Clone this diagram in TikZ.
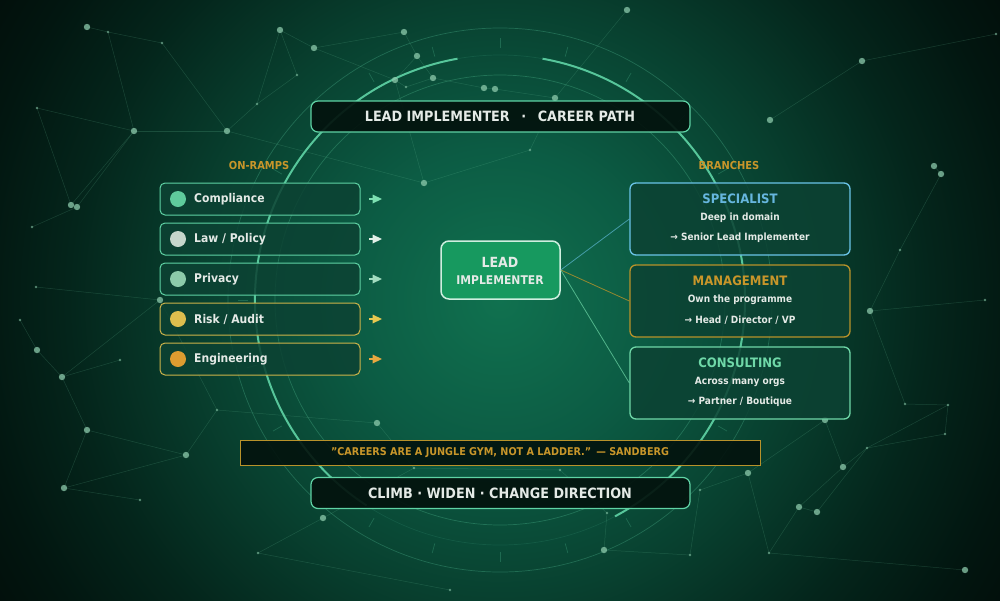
\documentclass[tikz,border=0pt]{standalone}
\usepackage{fontspec}
\setmainfont{DejaVu Sans}[FakeStretch=0.9]
\usetikzlibrary{calc,shapes.misc}
\definecolor{bgA}{HTML}{10714F}
\definecolor{bgB}{HTML}{0C5C44}
\definecolor{bgC}{HTML}{08402F}
\definecolor{bgD}{HTML}{04251B}
\definecolor{bgE}{HTML}{021610}
\definecolor{bgF}{HTML}{020E0A}
\definecolor{mint}{HTML}{5FD3A5}
\definecolor{gold}{HTML}{C8962A}
\definecolor{goldline}{HTML}{B8922A}
\definecolor{darkfill}{HTML}{03120D}
\definecolor{boxfill}{HTML}{0C4233}
\definecolor{txt}{HTML}{E4EAE6}
\definecolor{netc}{HTML}{6FC8A0}
\definecolor{dotc}{HTML}{8CC9AB}
\definecolor{specc}{HTML}{6AC4E8}
\definecolor{spect}{HTML}{66B6DE}
\definecolor{consc}{HTML}{6FD8A8}
\definecolor{leadfill}{HTML}{17995F}
\definecolor{leadline}{HTML}{CFEFDF}
\definecolor{cCompl}{HTML}{5FCB9C}
\definecolor{cLaw}{HTML}{C6D6CB}
\definecolor{cPriv}{HTML}{8CCBAA}
\definecolor{cRisk}{HTML}{DDBE4E}
\definecolor{cEng}{HTML}{DD9C30}
\definecolor{tCompl}{HTML}{7DE0B2}
\definecolor{tLaw}{HTML}{E2F0E8}
\definecolor{tPriv}{HTML}{A2DCC0}
\definecolor{tRisk}{HTML}{E8C850}
\definecolor{tEng}{HTML}{E8A840}
\definecolor{rampgold}{HTML}{CDB44A}
\pgfdeclareradialshading{bgshade}{\pgfpoint{0bp}{0bp}}{color(0bp)=(bgA); color(6.25bp)=(bgB); color(12.5bp)=(bgC); color(18bp)=(bgD); color(22bp)=(bgE); color(25bp)=(bgF); color(100bp)=(bgF)}
\tikzset{
  ring/.style={draw=mint, line width=0.7pt, opacity=0.28},
  brightarc/.style={draw=mint, line width=2pt, opacity=0.9},
  tick/.style={draw=mint, line width=0.7pt, opacity=0.25},
  net/.style={draw=netc, line width=0.5pt, opacity=0.2},
  bigdot/.style={fill=dotc, opacity=0.75},
  smalldot/.style={fill=dotc, opacity=0.6},
  darkbox/.style={draw=mint, line width=1.2pt, fill=darkfill, fill opacity=0.92, rounded corners=7pt, minimum width=379pt, minimum height=31pt, inner sep=0pt},
  bigtext/.style={text=txt, font=\bfseries\fontsize{14.2}{16}\selectfont},
  section/.style={text=gold, font=\bfseries\fontsize{11}{13}\selectfont},
  rampbox/.style={line width=1pt, fill=boxfill, fill opacity=0.85, rounded corners=5pt, minimum width=200pt, minimum height=32pt, inner sep=0pt},
  rampdot/.style={circle, inner sep=0pt, minimum size=16pt},
  ramplabel/.style={anchor=west, inner sep=0pt, text=txt, font=\bfseries\fontsize{12}{14}\selectfont},
  leadbox/.style={draw=leadline, line width=1.5pt, fill=leadfill, rounded corners=8pt, minimum width=119pt, minimum height=58pt, inner sep=0pt},
  branchbox/.style={line width=1.3pt, fill=boxfill, fill opacity=0.85, rounded corners=6pt, minimum width=220pt, minimum height=72pt, inner sep=0pt},
  branchtitle/.style={inner sep=0pt, font=\bfseries\fontsize{13}{15}\selectfont},
  branchline/.style={inner sep=0pt, text=txt, font=\bfseries\fontsize{10}{12}\selectfont},
  link/.style={line width=0.8pt, opacity=0.8},
}
\begin{document}
\begin{tikzpicture}[x=1pt,y=-1pt]
\useasboundingbox (0,0) rectangle (1000,600);
% background
\begin{scope}
\clip (0,0) rectangle (1000,600);
\shade[shading=bgshade] (-100,-300) rectangle (1100,900);
% rings
\draw[ring] (500,300) circle (225);
\draw[ring] (500,300) circle (272);
\draw[ring, opacity=0.12] (500,300) circle (245);
\draw[brightarc] ([shift={(500,300)}] -100:245) arc (-100:-237:245);
\draw[brightarc] ([shift={(500,300)}] 62:245) arc (62:-80:245);
\foreach \a in {0,15,...,345} {
  \draw[tick] ([shift={(500,300)}] \a:252) -- ([shift={(500,300)}] \a:262);
}
% constellation
\foreach \n/\x/\y in {a1/87/27, a2/108/32, a3/162/43, a4/280/30, a5/297/75, a6/257/104, a7/227/131, a8/134/131, a9/37/108, a10/71/205, a11/77/207, a12/32/227,
 b1/404/32, b2/417/56, b3/433/78, b4/395/80, b5/406/87, b6/314/48, b7/484/88, b8/495/89, b9/555/98, b10/424/183, b11/627/10, b12/530/150,
 c1/862/61, c2/770/120, c3/996/34, c4/934/166, c5/941/174, c6/870/311, c7/905/404, c8/948/405, c9/945/434, c10/867/448, c11/843/467, c12/748/473, c13/799/507, c14/817/512, c15/769/553, c16/965/570, c17/825/420, c18/900/250, c19/985/300,
 d1/36/287, d2/160/300, d3/37/350, d4/20/320, d5/62/377, d6/87/430, d7/186/455, d8/64/488, d9/217/410, d10/120/360, d11/140/500,
 e1/377/423, e2/323/518, e3/258/553, e4/604/550, e5/607/513, e6/414/468, e7/560/470, e8/690/555, e9/450/590, e10/700/490}
 {\coordinate (\n) at (\x,\y);}
\foreach \p/\q in {a1/a2, a2/a3, a2/a8, a3/a7, a4/a5, a5/a6, a6/a7, a8/a7, a9/a8, a9/a10, a8/a10, a8/a11, a11/a12, a4/a6, a7/b10,
 b1/b2, b2/b3, b2/b4, b3/b5, b4/b5, b6/b4, b1/b6, b3/b7, b7/b8, b8/b9, b4/b10, b9/b12, b10/b12, b11/b9, a4/b6,
 c2/c1, c1/c3, c4/c5, c5/c18, c18/c6, c6/c19, c17/c11, c11/c10, c10/c8, c10/c9, c8/c9, c13/c14, c13/c11, c14/c10, c12/c15, c13/c15, c12/c17, c15/c16, c12/e10, c7/c8, c6/c7,
 d1/d2, d2/d5, d3/d5, d4/d3, d5/d6, d6/d7, d7/d9, d8/d7, d8/d6, d9/d2, d10/d5, d11/d8,
 e1/e6, e1/d9, e2/e3, e2/e6, e4/e5, e4/e8, e5/e7, e7/e6, e3/e9, e10/e8}
 {\draw[net] (\p) -- (\q);}
\foreach \n in {a1,a4,a7,a8,a10,a11,b1,b2,b3,b4,b6,b7,b8,b9,b10,b11,c1,c2,c4,c5,c6,c11,c12,c13,c14,c16,c17,d2,d3,d5,d6,d7,d8,e1,e2,e4}
 {\fill[bigdot] (\n) circle (3.2);}
\foreach \n in {a2,a3,a5,a6,a9,a12,b5,b12,c3,c7,c8,c9,c10,c15,c18,c19,d1,d4,d9,d10,d11,e3,e5,e6,e7,e8,e9,e10}
 {\fill[smalldot] (\n) circle (1.3);}
\end{scope}

% title
\node[darkbox] (title) at (500.5,116.5) {};
\node[bigtext] (titletext) at (500,116) {LEAD IMPLEMENTER \,\,\,·\,\,\, CAREER PATH};

% section labels
\node[section] (onramps) at (259,165) {ON-RAMPS};
\node[section] (branches) at (729,165) {BRANCHES};

% on-ramps
\foreach \n/\y/\bc/\dc/\tc/\lab in {r1/199/mint/cCompl/tCompl/{Compliance}, r2/239/mint/cLaw/tLaw/{Law / Policy}, r3/279/mint/cPriv/tPriv/{Privacy}, r4/319/rampgold/cRisk/tRisk/{Risk / Audit}, r5/359/rampgold/cEng/tEng/{Engineering}} {
  \node[rampbox, draw=\bc] (\n) at (260,\y) {};
  \node[rampdot, fill=\dc] (\n dot) at (178,\y) {};
  \node[ramplabel] (\n lab) at (194,\y) {\lab};
  \fill[\tc] (372.5,\y-4.5) -- (382,\y) -- (372.5,\y+4.5) -- cycle;
  \draw[\tc, line width=1.2pt] (369,\y) -- (373,\y);
}

% lead node
\node[leadbox] (lead) at (500.5,270) {};
\node[inner sep=0pt, text=txt, font=\bfseries\fontsize{14}{16}\selectfont] (leadA) at (500,262) {LEAD};
\node[inner sep=0pt, text=txt, font=\bfseries\fontsize{12}{14}\selectfont] (leadB) at (500,280) {IMPLEMENTER};

% branches
\node[branchbox, draw=specc] (spec) at (740,219) {};
\node[branchtitle, text=spect] (specT) at (740,199) {SPECIALIST};
\node[branchline] (specA) at (740,218) {Deep in domain};
\node[branchline] (specB) at (740,238) {→ Senior Lead Implementer};

\node[branchbox, draw=goldline] (mgmt) at (740,301) {};
\node[branchtitle, text=gold] (mgmtT) at (740,281) {MANAGEMENT};
\node[branchline] (mgmtA) at (740,300) {Own the programme};
\node[branchline] (mgmtB) at (740,320) {→ Head / Director / VP};

\node[branchbox, draw=consc] (cons) at (740,383) {};
\node[branchtitle, text=consc] (consT) at (740,363) {CONSULTING};
\node[branchline] (consA) at (740,382) {Across many orgs};
\node[branchline] (consB) at (740,402) {→ Partner / Boutique};

% connectors
\draw[link, draw=specc, opacity=0.6] (lead.east) -- (spec.west);
\draw[link, draw=goldline] (lead.east) -- (mgmt.west);
\draw[link, draw=consc, opacity=0.7] (lead.east) -- (cons.west);

% quote
\node[chamfered rectangle, chamfered rectangle xsep=3pt, chamfered rectangle ysep=3pt, draw=goldline, line width=1pt, fill=darkfill, fill opacity=0.9, minimum width=520pt, minimum height=25pt, inner sep=0pt] (quote) at (500,453) {};
\node[inner sep=0pt, text=gold, font=\bfseries\fontsize{10.7}{12}\selectfont] (quotetext) at (500,453) {\symbol{"22}CAREERS ARE A JUNGLE GYM, NOT A LADDER.\symbol{"22} \,— SANDBERG};

% bottom
\node[darkbox] (bottom) at (500.5,493) {};
\node[bigtext] (bottomtext) at (500,493) {CLIMB · WIDEN · CHANGE DIRECTION};
\end{tikzpicture}
\end{document}
